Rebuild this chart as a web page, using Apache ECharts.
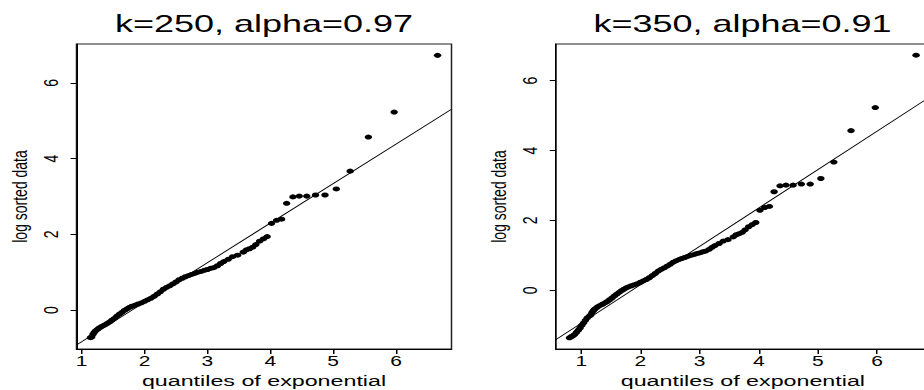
<!DOCTYPE html>
<html><head><meta charset="utf-8">
<script src="https://cdn.jsdelivr.net/npm/echarts@6/dist/echarts.min.js"></script>
<style>
html,body{margin:0;padding:0;background:#fff;overflow:hidden;}
#wrap{width:924px;height:390px;overflow:hidden;position:relative;}
#chart{width:640px;height:390px;transform:scaleX(1.5);transform-origin:0 0;}
</style></head>
<body><div id="wrap"><div id="chart"></div></div>
<script>
// titles
const titles = ['k=250, alpha=0.97', 'k=350, alpha=0.91'];
const xName = 'quantiles of exponential';
const yName = 'log sorted data';
const xTicks = [1, 2, 3, 4, 5, 6];
const yTicks = [0, 2, 4, 6];

// top-ranked points (shown in both panels): exponential quantile, log sorted data
const qTop = [1.14,1.16,1.18,1.20,1.22,1.25,1.28,1.32,1.36,1.40,1.44,1.48,1.52,1.56,1.60,1.64,1.68,1.72,1.76,1.80,
  1.85,1.90,1.95,2.00,2.05,2.10,2.15,2.20,2.25,2.30,2.35,2.40,2.45,2.50,2.55,2.60,2.65,2.70,2.75,2.80,
  2.85,2.90,2.95,3.00,3.05,3.10,3.16,3.21,3.26,3.33,3.40,3.48,3.57,3.62,3.67,3.72,3.77,3.83,3.89,3.95,
  4.02,4.10,4.18,4.26,4.36,4.46,4.58,4.72,4.87,5.05,5.27,5.56,5.97,6.66];
const logTop = [-0.73,-0.71,-0.64,-0.59,-0.55,-0.51,-0.47,-0.43,-0.40,-0.36,-0.32,-0.27,-0.22,-0.16,-0.11,-0.06,-0.01,0.03,0.07,0.10,
  0.13,0.16,0.19,0.23,0.27,0.31,0.36,0.42,0.48,0.55,0.60,0.64,0.69,0.74,0.80,0.84,0.88,0.91,0.94,0.97,
  1.00,1.02,1.05,1.07,1.10,1.12,1.17,1.23,1.28,1.34,1.41,1.45,1.53,1.59,1.62,1.66,1.73,1.82,1.88,1.94,
  2.29,2.37,2.40,2.82,2.99,3.01,3.01,3.04,3.04,3.20,3.67,4.57,5.23,6.73];
// additional lower points (k=350 panel only)
const qExtra = [0.80,0.83,0.86,0.89,0.92,0.95,0.98,1.01,1.04,1.07,1.10];
const logExtra = [-1.36,-1.33,-1.30,-1.26,-1.20,-1.14,-1.08,-1.00,-0.93,-0.86,-0.79];

// fitted lines (endpoints)
const lineLeftX = [0.918, 6.882];
const lineLeftY = [-0.926, 5.307];
const lineRightX = [0.569, 6.895];
const lineRightY = [-1.415, 5.538];

// axis ranges
const xRangeLeft = [0.918, 6.882], yRangeLeft = [-1.03, 7.03];
const xRangeRight = [0.569, 6.895], yRangeRight = [-1.68, 7.05];

const zip = (a, b) => a.map((v, i) => [v, b[i]]);
const FONT = 'Liberation Sans';

function xAxis(idx, range) {
  return {
    type: 'value', gridIndex: idx, min: range[0], max: range[1],
    name: xName, nameLocation: 'middle', nameGap: 16,
    nameTextStyle: {fontFamily: FONT, fontSize: 15.5, color: '#000'},
    axisLine: {show: true, onZero: false, lineStyle: {color: '#000', width: 1}},
    axisTick: {show: true, length: 5, customValues: xTicks, lineStyle: {color: '#000'}},
    axisLabel: {customValues: xTicks, margin: 5, fontFamily: FONT, fontSize: 14, color: '#000'},
    splitLine: {show: false}
  };
}
function yAxis(idx, range) {
  return {
    type: 'value', gridIndex: idx, min: range[0], max: range[1],
    name: yName, nameLocation: 'middle', nameGap: 31, nameRotate: 90,
    nameTextStyle: {fontFamily: FONT, fontSize: 14, color: '#000'},
    axisLine: {show: true, onZero: false, lineStyle: {color: '#000', width: 1}},
    axisTick: {show: true, length: 4, customValues: yTicks, lineStyle: {color: '#000'}},
    axisLabel: {customValues: yTicks, rotate: 90, margin: 10, fontFamily: FONT, fontSize: 14, color: '#000'},
    splitLine: {show: false}
  };
}

const chart = echarts.init(document.getElementById('chart'), null, {renderer: 'svg'});
chart.setOption({
  animation: false,
  backgroundColor: '#fff',
  title: [
    {text: titles[0], left: 176, top: 11, textAlign: 'center', padding: 0,
     textStyle: {fontFamily: FONT, fontSize: 24, fontWeight: 'normal', color: '#000'}},
    {text: titles[1], left: 495, top: 11, textAlign: 'center', padding: 0,
     textStyle: {fontFamily: FONT, fontSize: 24, fontWeight: 'normal', color: '#000'}}
  ],
  grid: [
    {left: 51, top: 44, width: 250, height: 305, show: true, borderColor: '#222', borderWidth: 1,
     backgroundColor: 'transparent', outerBoundsMode: 'none', containLabel: false},
    {left: 370.5, top: 44, width: 249.5, height: 305, show: true, borderColor: '#222', borderWidth: 1,
     backgroundColor: 'transparent', outerBoundsMode: 'none', containLabel: false}
  ],
  xAxis: [xAxis(0, xRangeLeft), xAxis(1, xRangeRight)],
  yAxis: [yAxis(0, yRangeLeft), yAxis(1, yRangeRight)],
  series: [
    {type: 'line', xAxisIndex: 0, yAxisIndex: 0, data: zip(lineLeftX, lineLeftY), showSymbol: false,
     lineStyle: {color: '#000', width: 0.8}, clip: true, silent: true},
    {type: 'scatter', xAxisIndex: 0, yAxisIndex: 0, data: zip(qTop, logTop), symbol: 'circle', symbolSize: 5,
     itemStyle: {color: '#000', opacity: 1}},
    {type: 'line', xAxisIndex: 1, yAxisIndex: 1, data: zip(lineRightX, lineRightY), showSymbol: false,
     lineStyle: {color: '#000', width: 0.8}, clip: true, silent: true},
    {type: 'scatter', xAxisIndex: 1, yAxisIndex: 1, data: zip(qExtra, logExtra).concat(zip(qTop, logTop)),
     symbol: 'circle', symbolSize: 5, itemStyle: {color: '#000', opacity: 1}}
  ]
});
</script>
</body></html>
